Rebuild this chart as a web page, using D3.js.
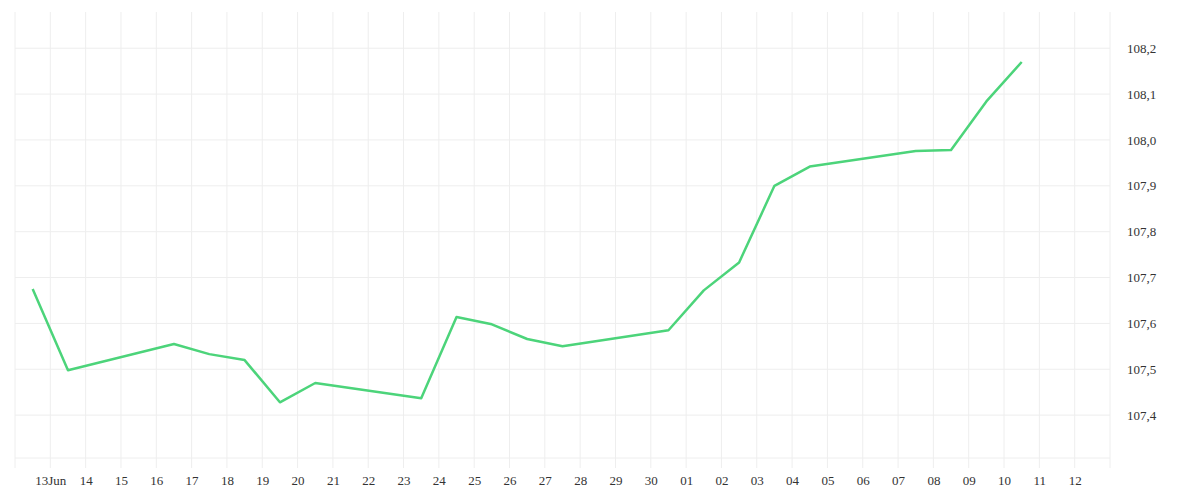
<!DOCTYPE html>
<html>
<head>
<meta charset="utf-8">
<script src="https://cdn.jsdelivr.net/npm/d3@7"></script>
<style>
  body { margin: 0; background: #fff; }
  text { font-family: "Liberation Serif", serif; font-size: 13px; fill: #333; }
</style>
</head>
<body>
<div id="chart"></div>
<script>
// points sit at noon of each trading day
var dates = ["2019-06-12", "2019-06-13", "2019-06-16", "2019-06-17", "2019-06-18", "2019-06-19",
  "2019-06-20", "2019-06-23", "2019-06-24", "2019-06-25", "2019-06-26", "2019-06-27",
  "2019-06-30", "2019-07-01", "2019-07-02", "2019-07-03", "2019-07-04", "2019-07-07",
  "2019-07-08", "2019-07-09", "2019-07-10"];
var values = [107.675, 107.498, 107.555, 107.533, 107.52, 107.428, 107.47, 107.437, 107.614,
  107.598, 107.566, 107.55, 107.585, 107.672, 107.733, 107.9, 107.942, 107.976, 107.978,
  108.084, 108.17];
var yTicks = [107.4, 107.5, 107.6, 107.7, 107.8, 107.9, 108.0, 108.1, 108.2];

var data = dates.map(function(d, i) {
  return { date: new Date(d + "T12:00:00Z"), value: values[i] };
});

var margin = {top: 12, right: 90, bottom: 42, left: 15},
    width = 1200 - margin.left - margin.right,
    height = 500 - margin.top - margin.bottom;

var svg = d3.select("#chart")
  .append("svg")
    .attr("width", 1200)
    .attr("height", 500)
  .append("g")
    .attr("transform", "translate(" + margin.left + "," + margin.top + ")");

var x = d3.scaleUtc()
  .domain([new Date("2019-06-12T00:00:00Z"), new Date("2019-07-13T00:00:00Z")])
  .range([0, width]);

var y = d3.scaleLinear()
  .domain([107.3065, 108.279])
  .range([height, 0]);

var xTicks = d3.utcDay.range(new Date("2019-06-13T00:00:00Z"), new Date("2019-07-13T00:00:00Z"));

// grid
svg.append("g").selectAll("line.v")
  .data(xTicks)
  .enter().append("line")
    .attr("x1", function(d) { return x(d); })
    .attr("x2", function(d) { return x(d); })
    .attr("y1", 0)
    .attr("y2", height + 10)
    .attr("stroke", "#eeeeee");

svg.append("g").selectAll("line.h")
  .data(yTicks)
  .enter().append("line")
    .attr("x1", 0)
    .attr("x2", width)
    .attr("y1", function(d) { return y(d); })
    .attr("y2", function(d) { return y(d); })
    .attr("stroke", "#eeeeee");

// frame edges
svg.append("line").attr("x1", 0).attr("x2", 0).attr("y1", 0).attr("y2", height + 10).attr("stroke", "#eeeeee");
svg.append("line").attr("x1", width).attr("x2", width).attr("y1", 0).attr("y2", height + 10).attr("stroke", "#eeeeee");
svg.append("line").attr("x1", 0).attr("x2", width).attr("y1", height).attr("y2", height).attr("stroke", "#eeeeee");

// x labels
var fmt = function(d) {
  var s = d3.utcFormat("%d")(d);
  return (d.getUTCDate() === 13 && d.getUTCMonth() === 5) ? "13Jun" : s;
};
svg.append("g")
    .attr("transform", "translate(0," + height + ")")
  .call(d3.axisBottom(x).tickValues(xTicks).tickFormat(fmt).tickSize(0).tickPadding(18))
  .call(function(g) { g.select(".domain").remove(); })
  .selectAll("text").style("font-size", "13px").attr("fill", "#333");

// y labels
svg.append("g")
    .attr("transform", "translate(" + width + ",0)")
  .call(d3.axisRight(y).tickValues(yTicks)
    .tickFormat(function(d) { return d3.format(".1f")(d).replace(".", ","); })
    .tickSize(0).tickPadding(17))
  .call(function(g) { g.select(".domain").remove(); })
  .selectAll("text").style("font-size", "13px").attr("fill", "#333");

var line = d3.line()
  .x(function(d) { return x(d.date); })
  .y(function(d) { return y(d.value); });

svg.append("path")
  .datum(data)
  .attr("fill", "none")
  .attr("stroke", "#4cd47a")
  .attr("stroke-width", 2.5)
  .attr("stroke-linejoin", "round")
  .attr("d", line);
</script>
</body>
</html>
